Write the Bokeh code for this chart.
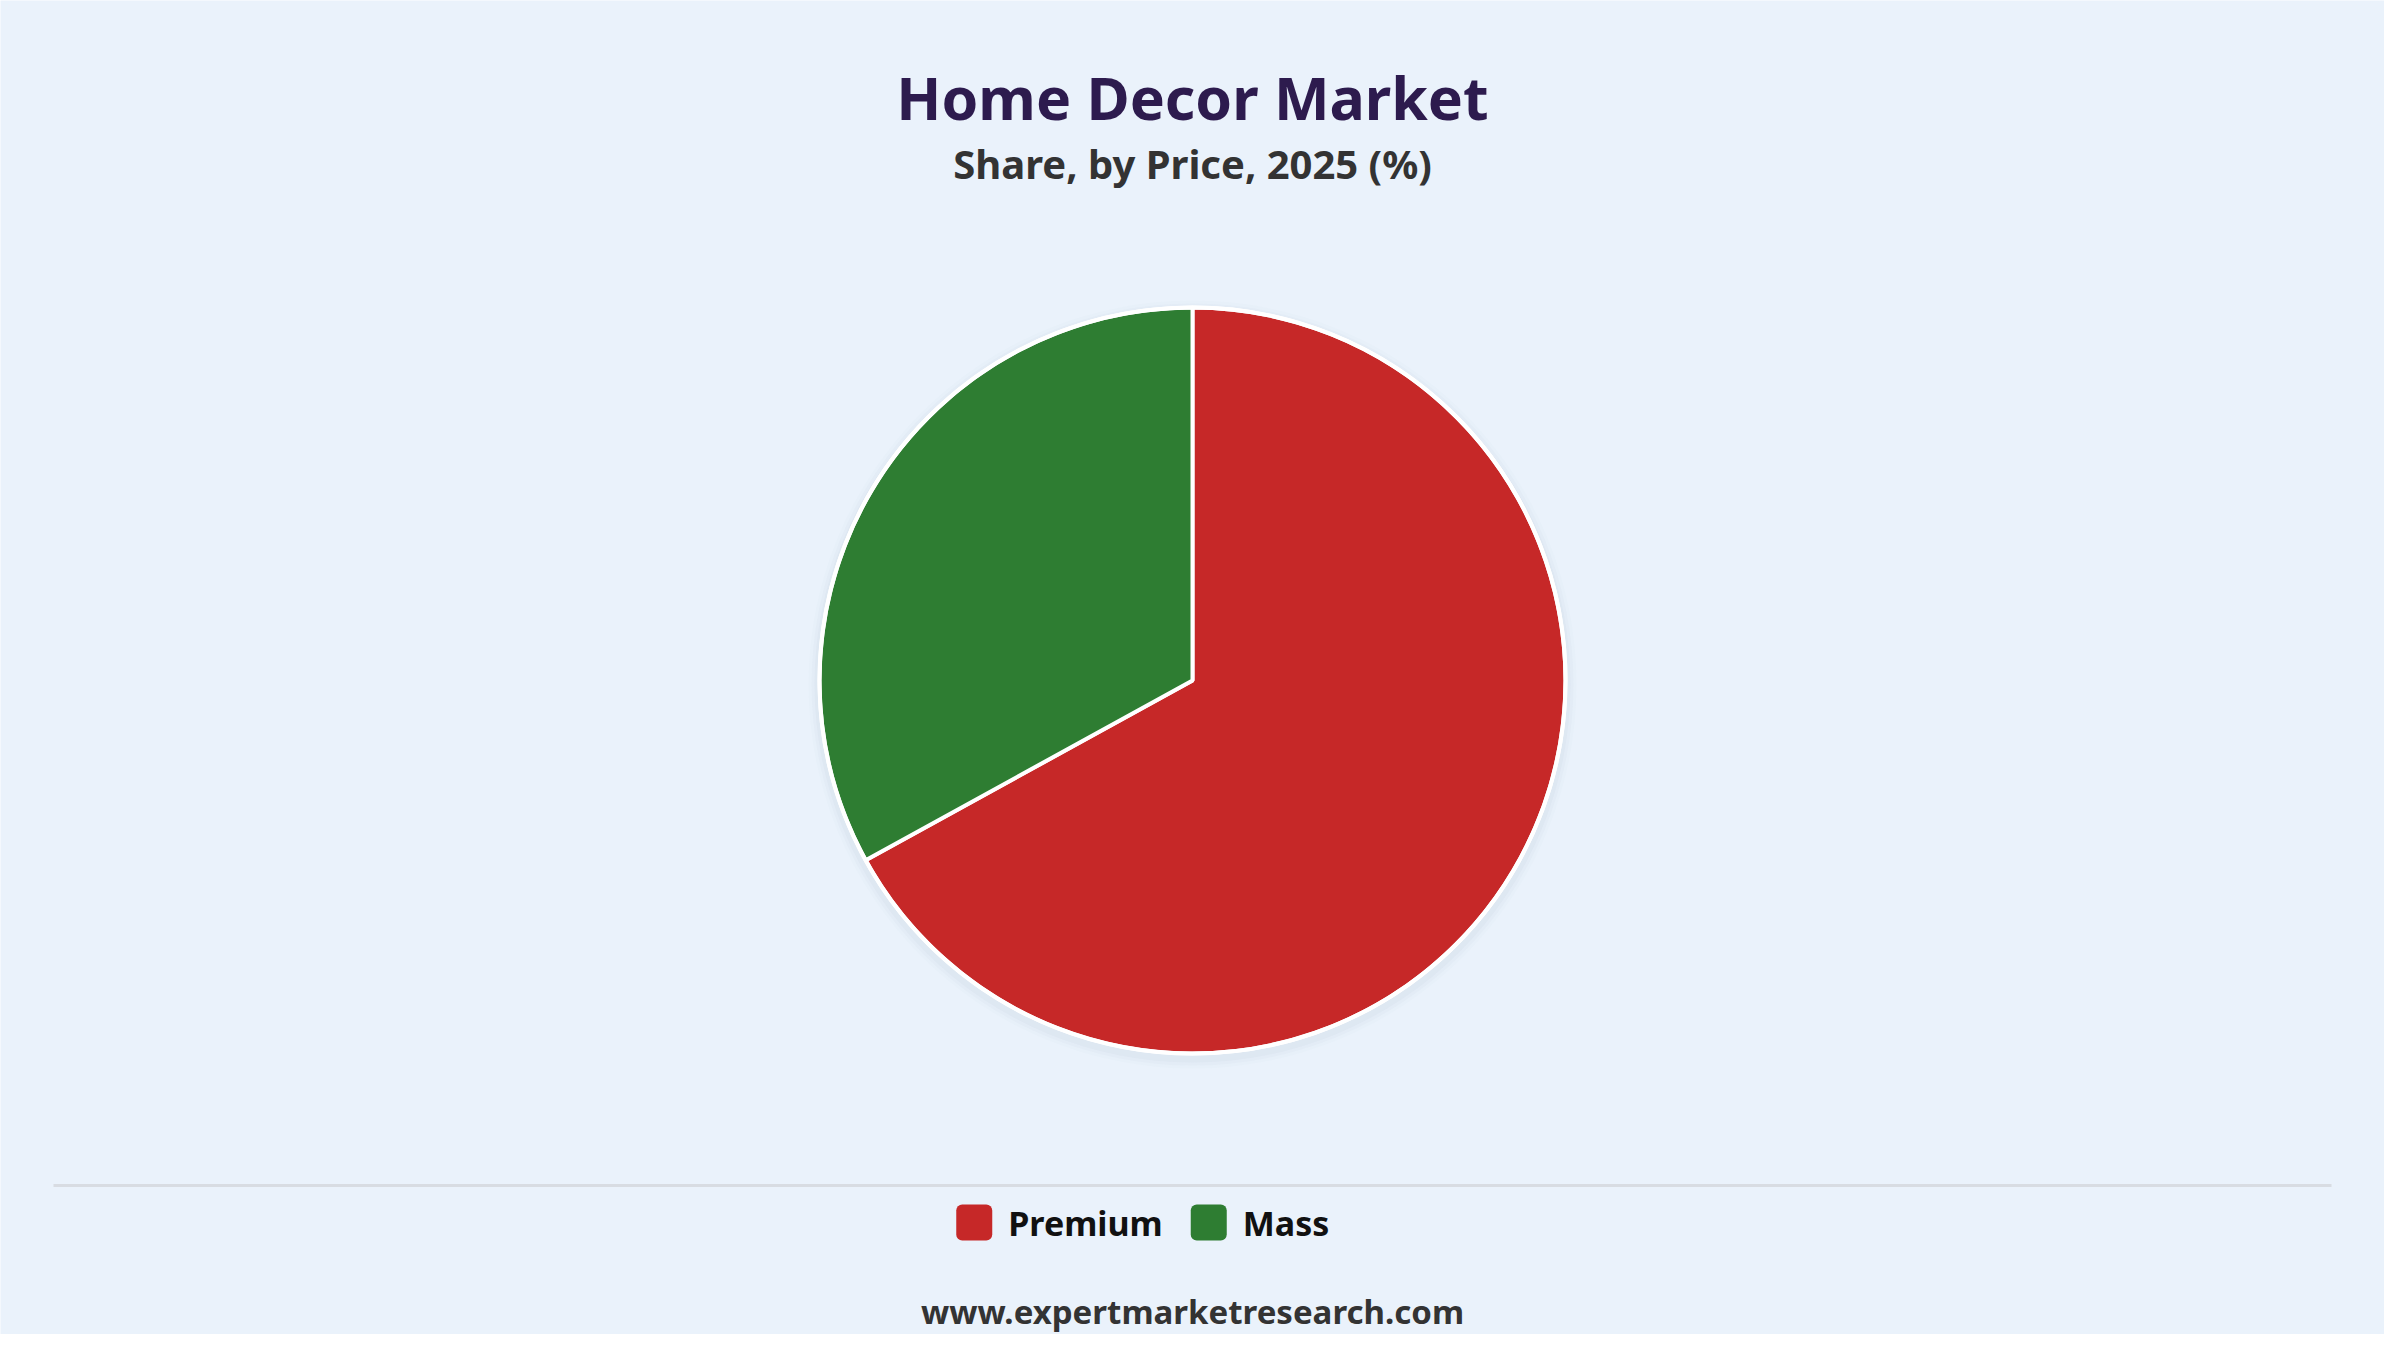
import math
from bokeh.plotting import figure
from bokeh.models import Range1d, ColumnDataSource
from bokeh.embed import file_html
from bokeh.resources import INLINE
from bokeh.core.properties import value

# ---- data ----
title_text = "Home Decor Market"
subtitle_text = "Share, by Price, 2025 (%)"
footer_text = "www.expertmarketresearch.com"
categories = ["Premium", "Mass"]
shares = [67, 33]
colors = ["#C62828", "#2E7D32"]

# ---- canvas ----
W, H = 2384, 1334
BG = "#EAF2FB"
FONT = value("Noto Sans")

p = figure(width=W, height=H, x_range=Range1d(0, W), y_range=Range1d(0, H),
           x_axis_type=None, y_axis_type=None,
           output_backend="svg", toolbar_location=None, min_border=0,
           background_fill_color=BG, border_fill_color=BG, outline_line_color=None)
p.grid.visible = False

# ---- pie ----
cx, cy, R = W / 2, 654, 373
total = float(sum(shares))
starts, ends = [], []
a = math.pi / 2
for s in shares:
    starts.append(a)
    a = a - 2 * math.pi * s / total
    ends.append(a)
src = ColumnDataSource(dict(cat=categories, share=shares, color=colors,
                            start=starts, end=ends))

# soft shadow
for k, al in [(11, 0.025), (8, 0.035), (5, 0.05)]:
    p.circle(x=[cx], y=[cy - 4], radius=R + k, fill_color="#8A97AA",
             fill_alpha=al, line_color=None)

p.wedge(x=cx, y=cy, radius=R, start_angle="start", end_angle="end",
        direction="clock", fill_color="color", line_color="white",
        line_width=4, source=src)
p.circle(x=[cx], y=[cy], radius=R, fill_color=None, line_color="white", line_width=4)

# ---- titles ----
p.text(x=[W / 2], y=[1238], text=[title_text], text_font=FONT,
       text_font_size="59px", text_font_style="bold", text_color="#2D1B4E",
       text_align="center", text_baseline="alphabetic")
p.text(x=[W / 2], y=[1171], text=[subtitle_text], text_font=FONT,
       text_font_size="40px", text_font_style="bold", text_color="#333333",
       text_align="center", text_baseline="alphabetic")

# ---- separator ----
p.segment(x0=[53], y0=[149], x1=[W - 53], y1=[149], line_color="#D8DCE2", line_width=3)

# ---- legend ----
sq, gap_t, gap_i, cw = 36, 16, 32, 21.5
widths = [sq + gap_t + len(c) * cw for c in categories]
tot_w = sum(widths) + gap_i * (len(categories) - 1)
x0 = W / 2 - 50 - tot_w / 2
lefts, tx = [], []
for w in widths:
    lefts.append(x0)
    tx.append(x0 + sq + gap_t)
    x0 += w + gap_i
lsrc = ColumnDataSource(dict(left=lefts, right=[l + sq for l in lefts], tx=tx,
                             cat=categories, color=colors))
p.quad(left="left", right="right", bottom=94, top=130, fill_color="color",
       line_color=None, border_radius=6, source=lsrc)
p.text(x="tx", y=112, text="cat", text_font=FONT, text_font_size="34px",
       text_font_style="bold", text_color="#111111", text_align="left",
       text_baseline="alphabetic", source=lsrc)

# ---- footer ----
p.text(x=[W / 2], y=[23], text=[footer_text], text_font=FONT,
       text_font_size="33px", text_font_style="bold", text_color="#333333",
       text_align="center", text_baseline="alphabetic")

open("out.html", "w").write(file_html(p, INLINE))
